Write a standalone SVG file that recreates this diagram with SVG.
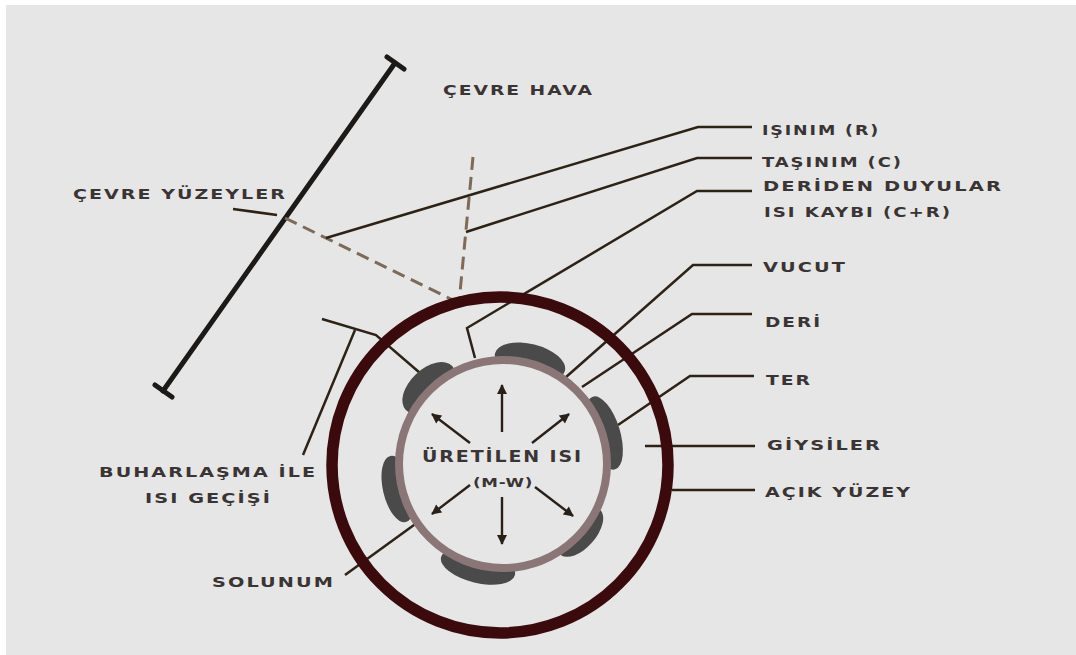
<svg xmlns="http://www.w3.org/2000/svg" width="1076" height="655" viewBox="0 0 1076 655">
<defs>
<style>
.t{font-family:"DejaVu Sans","Liberation Sans",sans-serif;font-weight:bold;font-size:14px;fill:#3a3434;letter-spacing:1.5px}
.p{fill:none;stroke:#2d2216;stroke-width:2.5;stroke-linejoin:miter}
.d{fill:none;stroke:#7d6a58;stroke-width:3;stroke-dasharray:13 7}
.a{fill:none;stroke:#2a2018;stroke-width:2.4;marker-end:url(#ah)}
.b{fill:#4a4a4b}
</style>
<marker id="ah" viewBox="0 0 10 10" refX="9" refY="5" markerWidth="11" markerHeight="10" markerUnits="userSpaceOnUse" orient="auto">
<path d="M0,0 L10,5 L0,10 Z" fill="#2a2018"/>
</marker>
</defs>
<rect x="0" y="0" width="1076" height="655" fill="#ffffff"/>
<rect x="6" y="5" width="1070" height="650" fill="#e6e6e6"/>

<g id="surface-wall">
<line x1="395" y1="63" x2="163" y2="391" stroke="#1c1a18" stroke-width="5" stroke-linecap="round"/>
<line x1="387" y1="57" x2="404" y2="69" stroke="#1c1a18" stroke-width="5" stroke-linecap="round"/>
<line x1="155" y1="385" x2="172" y2="397" stroke="#1c1a18" stroke-width="5" stroke-linecap="round"/>
</g>

<g id="connectors">
<line class="d" x1="285" y1="218" x2="457" y2="302"/>
<line class="d" x1="473" y1="157" x2="459" y2="303"/>
<polyline class="p" points="233,209 277,215"/>
<polyline class="p" points="326,238 698,127 752,127"/>
<polyline class="p" points="466,232 697,158 752,158"/>
<polyline class="p" points="475,358 467,328 697,191 752,191"/>
<polyline class="p" points="540,400 693,265 752,265"/>
<polyline class="p" points="582,387 692,314 752,314"/>
<polyline class="p" points="618,425 690,376 754,376"/>
<polyline class="p" points="645,446 755,446"/>
<polyline class="p" points="672,490 755,490"/>
<polyline class="p" points="322,319 376,335 420,373"/>
<polyline class="p" points="355,330 303,455"/>
<polyline class="p" points="425,517 345,575"/>
</g>

<g id="clothing">
<circle cx="500" cy="465" r="168" fill="none" stroke="#3a0a0c" stroke-width="11.5"/>
</g>

<g id="sweat">
<ellipse class="b" cx="530" cy="362" rx="36" ry="18" transform="rotate(14 530 362)"/>
<ellipse class="b" cx="429" cy="388" rx="32" ry="19" transform="rotate(-43.5 429 388)"/>
<ellipse class="b" cx="398" cy="489" rx="34" ry="15" transform="rotate(76.8 398 489)"/>
<ellipse class="b" cx="604" cy="433" rx="38" ry="16" transform="rotate(73 604 433)"/>
<ellipse class="b" cx="580" cy="532" rx="30" ry="16" transform="rotate(131.5 580 532)"/>
<ellipse class="b" cx="478" cy="566" rx="38" ry="17" transform="rotate(193.6 478 566)"/>
</g>

<g id="skin">
<circle cx="503" cy="464" r="104" fill="#e6e6e6" stroke="#8a7676" stroke-width="8"/>
</g>

<g id="heat-arrows">
<line class="a" x1="502" y1="432" x2="502" y2="385"/>
<line class="a" x1="470" y1="443" x2="432" y2="414"/>
<line class="a" x1="532" y1="443" x2="569" y2="414"/>
<line class="a" x1="470" y1="485" x2="432" y2="514"/>
<line class="a" x1="535" y1="487" x2="573" y2="516"/>
<line class="a" x1="502" y1="497" x2="502" y2="544"/>
</g>

<g id="labels">
<text class="t" x="443" y="95" textLength="151" lengthAdjust="spacingAndGlyphs">ÇEVRE HAVA</text>
<text class="t" x="73" y="199" textLength="214" lengthAdjust="spacingAndGlyphs">ÇEVRE YÜZEYLER</text>
<text class="t" x="762" y="135" textLength="118" lengthAdjust="spacingAndGlyphs">IŞINIM (R)</text>
<text class="t" x="762" y="167" textLength="141" lengthAdjust="spacingAndGlyphs">TAŞINIM (C)</text>
<text class="t" x="763" y="191" textLength="240" lengthAdjust="spacingAndGlyphs">DERİDEN DUYULAR</text>
<text class="t" x="764" y="217" textLength="188" lengthAdjust="spacingAndGlyphs">ISI KAYBI (C+R)</text>
<text class="t" x="763" y="272" textLength="84" lengthAdjust="spacingAndGlyphs">VUCUT</text>
<text class="t" x="765" y="327" textLength="57" lengthAdjust="spacingAndGlyphs">DERİ</text>
<text class="t" x="766" y="385" textLength="46" lengthAdjust="spacingAndGlyphs">TER</text>
<text class="t" x="767" y="450" textLength="115" lengthAdjust="spacingAndGlyphs">GİYSİLER</text>
<text class="t" x="765" y="497" textLength="147" lengthAdjust="spacingAndGlyphs">AÇIK YÜZEY</text>
<text class="t" x="99" y="477" textLength="218" lengthAdjust="spacingAndGlyphs">BUHARLAŞMA İLE</text>
<text class="t" x="145" y="503" textLength="127" lengthAdjust="spacingAndGlyphs">ISI GEÇİŞİ</text>
<text class="t" x="212" y="587" textLength="123" lengthAdjust="spacingAndGlyphs">SOLUNUM</text>
<text class="t" x="422" y="462" style="font-size:15px" textLength="161" lengthAdjust="spacingAndGlyphs">ÜRETİLEN ISI</text>
<text class="t" x="473" y="487" style="font-size:12px;letter-spacing:0.5px" textLength="60" lengthAdjust="spacingAndGlyphs">(M-W)</text>
</g>
</svg>
